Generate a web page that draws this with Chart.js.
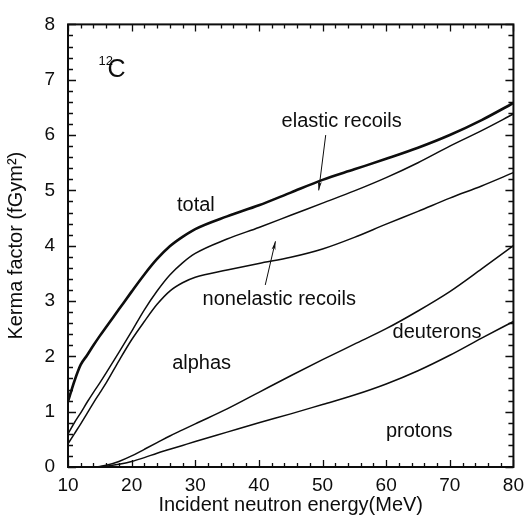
<!DOCTYPE html>
<html>
<head>
<meta charset="utf-8">
<script src="https://cdn.jsdelivr.net/npm/chart.js@4/dist/chart.umd.min.js"></script>
<style>
  html, body { margin: 0; padding: 0; background: #fff; }
  #wrap { position: relative; width: 531px; height: 517px; }
</style>
</head>
<body>
<div id="wrap"><canvas id="c"></canvas></div>
<script>
// ---- data (Kerma factor, fGy m^2, vs incident neutron energy, MeV) ----
const energy          = [10, 11, 12, 13, 14, 15, 16, 18, 20, 22, 24, 26, 28, 30, 35, 40, 45, 50, 55, 60, 65, 70, 75, 80];
const totalKerma      = [1.18, 1.55, 1.85, 2.02, 2.20, 2.37, 2.53, 2.85, 3.17, 3.48, 3.76, 3.99, 4.16, 4.30, 4.53, 4.73, 4.96, 5.19, 5.38, 5.57, 5.77, 6.00, 6.27, 6.58];
const nonelasticSum   = [0.60, 0.80, 0.98, 1.17, 1.35, 1.52, 1.70, 2.07, 2.45, 2.84, 3.18, 3.47, 3.69, 3.86, 4.12, 4.33, 4.55, 4.77, 4.99, 5.23, 5.50, 5.80, 6.08, 6.38];
const alphaSum        = [0.42, 0.60, 0.78, 0.97, 1.16, 1.34, 1.52, 1.92, 2.30, 2.63, 2.94, 3.18, 3.33, 3.43, 3.56, 3.68, 3.79, 3.94, 4.15, 4.39, 4.62, 4.86, 5.08, 5.32];
const deuteronSum     = [null, null, null, null, 0.00, 0.01, 0.03, 0.10, 0.20, 0.32, 0.44, 0.56, 0.67, 0.78, 1.05, 1.35, 1.65, 1.94, 2.22, 2.50, 2.82, 3.17, 3.58, 4.00];
const protonKerma     = [null, null, null, null, 0.00, 0.005, 0.015, 0.05, 0.10, 0.17, 0.25, 0.32, 0.39, 0.46, 0.63, 0.80, 0.96, 1.13, 1.30, 1.50, 1.74, 2.02, 2.33, 2.63];

const xTicks = [10, 20, 30, 40, 50, 60, 70, 80];
const yTicks = [0, 1, 2, 3, 4, 5, 6, 7, 8];

const xTitle = 'Incident neutron energy(MeV)';
const yTitle = 'Kerma factor (fGym\u00B2)';

// annotations (data coordinates)
const textLabels = [
  { text: 'total',              x: 30.1, y: 4.72 },
  { text: 'elastic recoils',    x: 53.0, y: 6.25 },
  { text: 'nonelastic recoils', x: 43.2, y: 3.02 },
  { text: 'alphas',             x: 31.0, y: 1.87 },
  { text: 'deuterons',          x: 68.0, y: 2.44 },
  { text: 'protons',            x: 65.2, y: 0.64 }
];
const arrows = [
  { from: [50.5, 6.00], to: [49.4, 5.00] },
  { from: [41.0, 3.29], to: [42.6, 4.08] }
];

const FONT = "'Liberation Sans', Arial, Helvetica, sans-serif";
const INK = '#0d0d0d';

function pts(ys) {
  const out = [];
  energy.forEach((e, i) => { if (ys[i] !== null) out.push({ x: e, y: ys[i] }); });
  return out;
}

const ds = (label, ys, w) => ({
  label, data: pts(ys), borderColor: INK, borderWidth: w,
  pointRadius: 0, fill: false, cubicInterpolationMode: 'monotone'
});

const overlay = {
  id: 'overlay',
  afterDraw(chart) {
    const { ctx, chartArea: a, scales: { x: xs, y: ys } } = chart;
    ctx.save();
    ctx.strokeStyle = INK;
    // frame
    ctx.lineWidth = 2;
    ctx.strokeRect(a.left, a.top, a.right - a.left, a.bottom - a.top);
    // inward ticks
    ctx.lineWidth = 1.3;
    ctx.beginPath();
    for (let i = 0; i <= 35; i++) {
      const v = 10 + i * 2;
      const px = Math.round(xs.getPixelForValue(v)) + 0.5;
      const len = (i % 5 === 0) ? 7 : 4;
      ctx.moveTo(px, a.bottom); ctx.lineTo(px, a.bottom - len);
      ctx.moveTo(px, a.top); ctx.lineTo(px, a.top + len);
    }
    for (let i = 0; i <= 40; i++) {
      const v = i * 0.2;
      const py = Math.round(ys.getPixelForValue(v)) + 0.5;
      const len = (i % 5 === 0) ? 8 : 5;
      ctx.moveTo(a.left, py); ctx.lineTo(a.left + len, py);
      ctx.moveTo(a.right, py); ctx.lineTo(a.right - len, py);
    }
    ctx.stroke();

    // text labels
    ctx.fillStyle = INK;
    ctx.font = '20px ' + FONT;
    ctx.textAlign = 'center';
    ctx.textBaseline = 'middle';
    textLabels.forEach(t => ctx.fillText(t.text, xs.getPixelForValue(t.x), ys.getPixelForValue(t.y)));

    // 12C
    ctx.textAlign = 'left';
    ctx.textBaseline = 'alphabetic';
    ctx.font = '13px ' + FONT;
    ctx.fillText('12', xs.getPixelForValue(14.8), ys.getPixelForValue(7.26));
    ctx.font = '25px ' + FONT;
    ctx.fillText('C', xs.getPixelForValue(16.2), ys.getPixelForValue(7.05));

    // arrows
    ctx.lineWidth = 1;
    arrows.forEach(ar => {
      const x1 = xs.getPixelForValue(ar.from[0]), y1 = ys.getPixelForValue(ar.from[1]);
      const x2 = xs.getPixelForValue(ar.to[0]),   y2 = ys.getPixelForValue(ar.to[1]);
      ctx.beginPath(); ctx.moveTo(x1, y1); ctx.lineTo(x2, y2); ctx.stroke();
      const ang = Math.atan2(y2 - y1, x2 - x1);
      const L = 9, W = 0.22;
      ctx.beginPath();
      ctx.moveTo(x2, y2);
      ctx.lineTo(x2 - L * Math.cos(ang - W), y2 - L * Math.sin(ang - W));
      ctx.lineTo(x2 - L * 0.7 * Math.cos(ang), y2 - L * 0.7 * Math.sin(ang));
      ctx.lineTo(x2 - L * Math.cos(ang + W), y2 - L * Math.sin(ang + W));
      ctx.closePath();
      ctx.fill();
    });
    ctx.restore();
  }
};

new Chart(document.getElementById('c'), {
  type: 'line',
  data: {
    datasets: [
      ds('total', totalKerma, 2.6),
      ds('nonelastic sum', nonelasticSum, 1.5),
      ds('alphas sum', alphaSum, 1.5),
      ds('deuterons sum', deuteronSum, 1.5),
      ds('protons', protonKerma, 1.5)
    ]
  },
  options: {
    responsive: true,
    maintainAspectRatio: false,
    animation: false,
    layout: { padding: { left: 0, right: 14, top: 14, bottom: 0 } },
    plugins: { legend: { display: false }, tooltip: { enabled: false } },
    scales: {
      x: {
        type: 'linear', min: 10, max: 80,
        grid: { display: false, drawTicks: false },
        border: { display: false },
        afterBuildTicks: s => { s.ticks = xTicks.map(v => ({ value: v })); },
        ticks: { color: INK, font: { family: FONT, size: 19 }, padding: 7, maxRotation: 0,
                 callback: v => String(v) },
        title: { display: true, text: xTitle, color: INK, font: { family: FONT, size: 20 },
                 padding: { top: 0, bottom: 0 } },
        afterFit: s => { s.height = 50; }
      },
      y: {
        type: 'linear', min: 0, max: 8,
        grid: { display: false, drawTicks: false },
        border: { display: false },
        afterBuildTicks: s => { s.ticks = yTicks.map(v => ({ value: v })); },
        ticks: { color: INK, font: { family: FONT, size: 19 }, padding: 13,
                 callback: v => String(v) },
        title: { display: true, text: yTitle, color: INK, font: { family: FONT, size: 20 },
                 padding: { top: 4, bottom: 0 } },
        afterFit: s => { s.width = 68; }
      }
    }
  },
  plugins: [overlay]
});
</script>
</body>
</html>
